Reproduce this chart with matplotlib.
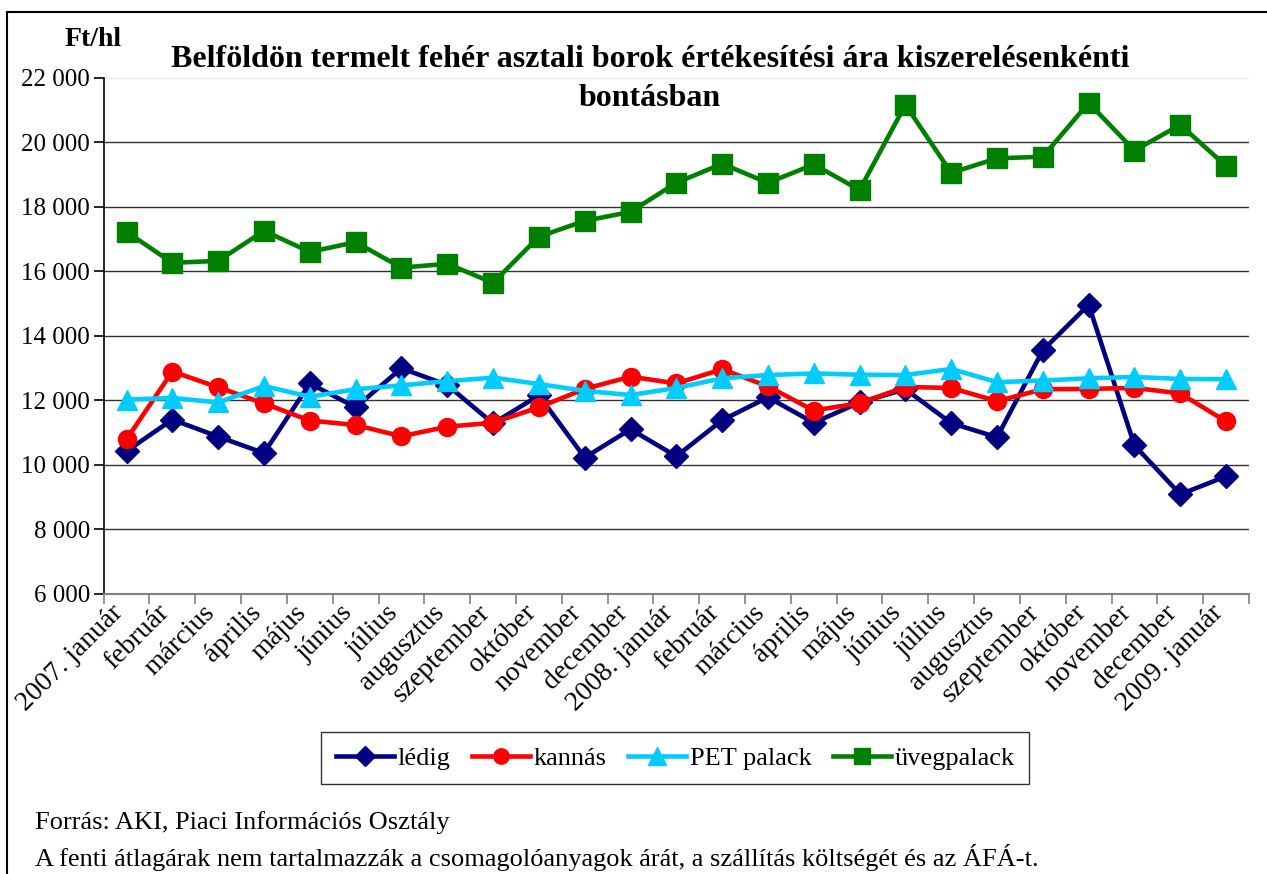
import matplotlib.pyplot as plt
from matplotlib.patches import Rectangle
from matplotlib.lines import Line2D
from matplotlib.transforms import ScaledTranslation

plt.rcParams['font.family'] = ['Liberation Serif', 'DejaVu Serif']

# -----------------------------------------------------------------------------
# Data
# -----------------------------------------------------------------------------

months = ["2007. január", "február", "március", "április", "május", "június",
          "július", "augusztus", "szeptember", "október", "november", "december",
          "2008. január", "február", "március", "április", "május", "június",
          "július", "augusztus", "szeptember", "október", "november", "december",
          "2009. január"]

ledig = [10420, 11400, 10870, 10360, 12520, 11780, 12990, 12470, 11280, 12150,
         10220, 11100, 10260, 11380, 12090, 11300, 11930, 12340, 11290, 10850,
         13550, 14960, 10600, 9080, 9640]
kannas = [10790, 12890, 12400, 11900, 11370, 11230, 10880, 11180, 11300, 11780,
          12350, 12730, 12520, 12960, 12430, 11680, 11910, 12410, 12380, 11970,
          12340, 12350, 12380, 12210, 11340]
pet = [12020, 12070, 11930, 12440, 12110, 12340, 12460, 12590, 12700, 12500,
       12290, 12160, 12380, 12680, 12780, 12830, 12790, 12780, 12970, 12560,
       12610, 12680, 12720, 12660, 12650]
uveg = [17220, 16260, 16320, 17250, 16600, 16900, 16110, 16230, 15640, 17070,
        17560, 17840, 18740, 19330, 18740, 19310, 18520, 21160, 19050, 19500,
        19550, 21220, 19740, 20540, 19260]

series = ["lédig", "kannás", "PET palack", "üvegpalack"]
colors = ["#000080", "#FF0000", "#00CCFF", "#008000"]
markers = ["D", "o", "^", "s"]
msizes = [12, 13, 15, 14]

# -----------------------------------------------------------------------------
# Plot
# -----------------------------------------------------------------------------

fig = plt.figure(figsize=(12.67, 8.74), dpi=100)
ax = fig.add_axes([0.0818, 0.3207, 0.904, 0.5904])

x = list(range(len(months)))
for vals, name, c, m, ms in zip([ledig, kannas, pet, uveg], series, colors, markers, msizes):
    ax.plot(x, vals, color=c, lw=3.3, marker=m, markersize=ms, label=name, zorder=3)

ax.set_xlim(-0.5, len(months) - 0.5)
ax.set_ylim(6000, 22000)
ax.set_yticks(range(6000, 22001, 2000))
ax.set_yticklabels([f"{v:,}".replace(",", " ") for v in range(6000, 22001, 2000)], fontsize=18)
for v in range(8000, 22000, 2000):
    ax.axhline(v, color="#333333", lw=1.0, zorder=1)
ax.axhline(22000, color="#e8e8e8", lw=1.5, zorder=1)

ax.set_xticks(x)
ax.set_xticklabels(months, rotation=45, ha="right", va="center", rotation_mode="anchor", fontsize=20)
ax.tick_params(axis="x", length=0, pad=11)
# nudge labels a little to the left, as in the original
for lbl in ax.get_xticklabels():
    lbl.set_transform(lbl.get_transform() + ScaledTranslation(-7 / 100, 0, fig.dpi_scale_trans))
ax.set_xticks([i - 0.5 for i in range(len(months) + 1)], minor=True)
ax.tick_params(axis="x", which="minor", length=7, color="#808080", width=1.2)
ax.tick_params(axis="y", length=7, width=1.2, pad=3)

for s in ["top", "right"]:
    ax.spines[s].set_visible(False)
ax.spines["left"].set_linewidth(1.2)
ax.spines["bottom"].set_color("#808080")
ax.spines["bottom"].set_linewidth(1.5)

# title and unit
fig.text(0.513, 0.932, "Belföldön termelt fehér asztali borok értékesítési ára kiszerelésenkénti",
         ha="center", va="center", fontsize=23, fontweight="bold")
fig.text(0.513, 0.887, "bontásban", ha="center", va="center", fontsize=23, fontweight="bold")
fig.text(0.0735, 0.955, "Ft/hl", ha="center", va="center", fontsize=20, fontweight="bold")

# legend
handles = [Line2D([0], [0], color=c, lw=3.3, marker=m, markersize=ms * 0.85)
           for c, m, ms in zip(colors, markers, msizes)]
fig.legend(handles, series, loc="center", bbox_to_anchor=(0.533, 0.1327), ncol=4,
           fontsize=19, frameon=True, fancybox=False, edgecolor="black",
           handlelength=2.2, columnspacing=0.8, handletextpad=0.15, borderpad=0.55,
           borderaxespad=0.3)

# footer
fig.text(0.028, 0.059, "Forrás: AKI, Piaci Információs Osztály", ha="left", va="center", fontsize=19)
fig.text(0.028, 0.019, "A fenti átlagárak nem tartalmazzák a csomagolóanyagok árát, a szállítás költségét és az ÁFÁ-t.",
         ha="left", va="center", fontsize=19)

# outer frame
fig.patches.append(Rectangle((7 / 1267, -0.05), 1.2, 1 - 12 / 874 + 0.05, transform=fig.transFigure,
                             fill=False, edgecolor="black", lw=1.5))

fig.savefig("out.png", dpi=100)
